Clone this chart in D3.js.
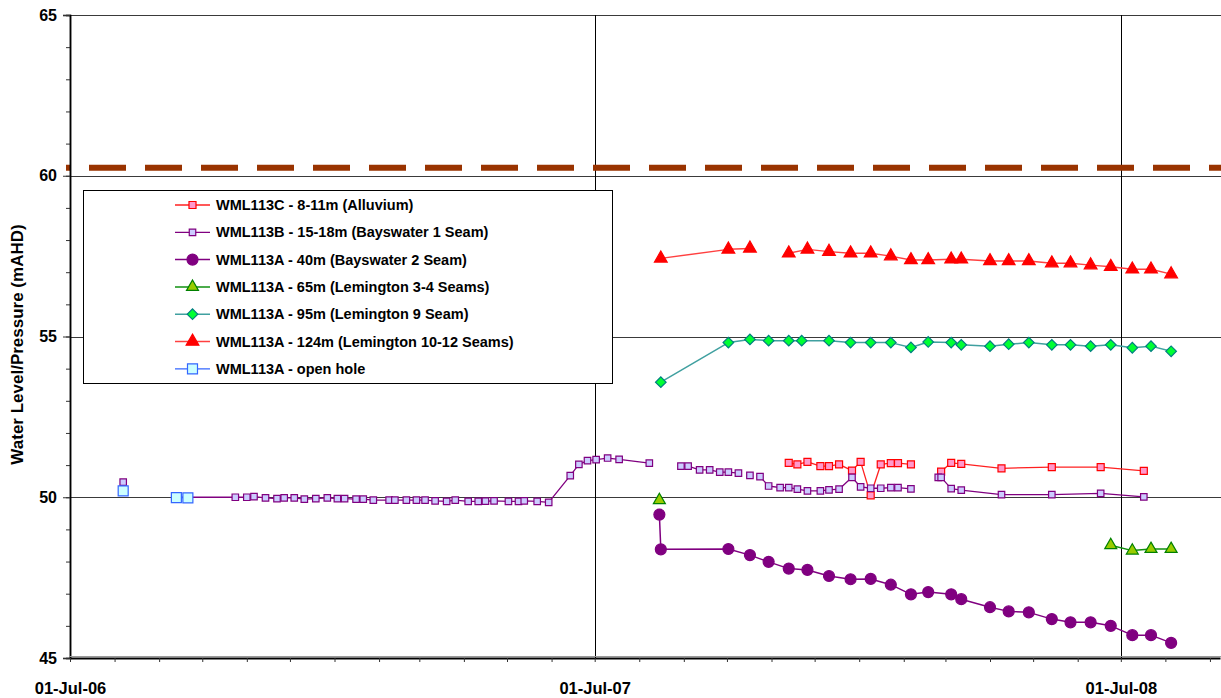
<!DOCTYPE html>
<html>
<head>
<meta charset="utf-8">
<script src="https://cdn.jsdelivr.net/npm/d3@7"></script>
<style>
  body { margin: 0; background: #fff; }
  svg { display: block; }
  text { font-family: "Liberation Sans", Arial, sans-serif; font-weight: bold; fill: #000; }
</style>
</head>
<body>
<svg id="chart" width="1221" height="698"></svg>
<script>
// ---- axis settings -------------------------------------------------------
const xDomain = ["2006-07-01", "2008-09-08"];
const xTickDates = ["2006-07-01", "2007-07-01", "2008-07-01"];
const xTickLabels = ["01-Jul-06", "01-Jul-07", "01-Jul-08"];
const yDomain = [45, 65];
const yTickValues = [45, 50, 55, 60, 65];
const yGridValues = [50, 55, 60, 65];
const yTitle = "Water Level/Pressure (mAHD)";

// reference level drawn as a heavy dashed line
const referenceLevel = 60.25;

// ---- monitoring readings: [date, level mAHD]; null marks a gap ------------
const wml113cReadings = [
  ["2007-11-13", 51.07], ["2007-11-19", 51.02], ["2007-11-26", 51.10], ["2007-12-05", 50.97],
  ["2007-12-11", 50.97], ["2007-12-18", 51.02], ["2007-12-27", 50.83], ["2008-01-02", 51.10],
  ["2008-01-09", 50.06], ["2008-01-16", 51.02], ["2008-01-23", 51.06], ["2008-01-28", 51.06],
  ["2008-02-06", 51.02], null,
  ["2008-02-27", 50.80], ["2008-03-05", 51.07], ["2008-03-12", 51.04], ["2008-04-09", 50.90],
  ["2008-05-14", 50.94], ["2008-06-17", 50.94], ["2008-07-17", 50.82]
];

const wml113bReadings = [
  ["2006-08-07", 50.47], null,
  ["2006-09-12", 50.00], ["2006-09-21", 50.00], ["2006-10-24", 50.00], ["2006-11-01", 50.00],
  ["2006-11-06", 50.02], ["2006-11-14", 49.98], ["2006-11-22", 49.96], ["2006-11-27", 49.98],
  ["2006-12-04", 49.98], ["2006-12-11", 49.94], ["2006-12-19", 49.96], ["2006-12-27", 49.98],
  ["2007-01-03", 49.96], ["2007-01-08", 49.96], ["2007-01-16", 49.94], ["2007-01-21", 49.94],
  ["2007-01-28", 49.91], ["2007-02-08", 49.91], ["2007-02-12", 49.91], ["2007-02-20", 49.91],
  ["2007-02-27", 49.91], ["2007-03-05", 49.91], ["2007-03-12", 49.89], ["2007-03-20", 49.87],
  ["2007-03-26", 49.91], ["2007-04-04", 49.87], ["2007-04-11", 49.87], ["2007-04-16", 49.88],
  ["2007-04-22", 49.89], ["2007-05-02", 49.87], ["2007-05-09", 49.87], ["2007-05-13", 49.89],
  ["2007-05-22", 49.87], ["2007-05-30", 49.84], ["2007-06-14", 50.67], ["2007-06-20", 51.02],
  ["2007-06-26", 51.14], ["2007-07-02", 51.17], ["2007-07-10", 51.22], ["2007-07-18", 51.18],
  ["2007-08-08", 51.06], null,
  ["2007-08-30", 50.97], ["2007-09-04", 50.97], ["2007-09-12", 50.85], ["2007-09-19", 50.85],
  ["2007-09-26", 50.78], ["2007-10-02", 50.78], ["2007-10-09", 50.75], null,
  ["2007-10-17", 50.68], null,
  ["2007-10-24", 50.64], ["2007-10-30", 50.35], ["2007-11-07", 50.30], ["2007-11-13", 50.30],
  ["2007-11-19", 50.25], ["2007-11-26", 50.20], ["2007-12-05", 50.20], ["2007-12-11", 50.23],
  ["2007-12-18", 50.25], ["2007-12-27", 50.62], ["2008-01-02", 50.32], ["2008-01-09", 50.28],
  ["2008-01-16", 50.28], ["2008-01-23", 50.30], ["2008-01-28", 50.30], ["2008-02-06", 50.26], null,
  ["2008-02-25", 50.62], ["2008-02-27", 50.62], ["2008-03-05", 50.27], ["2008-03-12", 50.22],
  ["2008-04-09", 50.08], ["2008-05-14", 50.08], ["2008-06-17", 50.12], ["2008-07-17", 50.01]
];

const wml113a40mReadings = [
  ["2007-08-15", 49.46], ["2007-08-16", 48.38], ["2007-10-02", 48.39], ["2007-10-17", 48.20],
  ["2007-10-30", 47.99], ["2007-11-13", 47.78], ["2007-11-26", 47.74], ["2007-12-11", 47.55],
  ["2007-12-26", 47.45], ["2008-01-09", 47.46], ["2008-01-23", 47.28], ["2008-02-06", 46.98],
  ["2008-02-18", 47.05], ["2008-03-05", 46.98], ["2008-03-12", 46.83], ["2008-04-01", 46.58],
  ["2008-04-14", 46.45], ["2008-04-28", 46.42], ["2008-05-14", 46.21], ["2008-05-27", 46.11],
  ["2008-06-10", 46.11], ["2008-06-24", 46.00], ["2008-07-09", 45.71], ["2008-07-22", 45.71],
  ["2008-08-05", 45.47]
];

const wml113a65mReadings = [
  ["2007-08-15", 49.91], null,
  ["2008-06-24", 48.51], ["2008-07-09", 48.34], ["2008-07-22", 48.39], ["2008-08-05", 48.39]
];

const wml113a95mReadings = [
  ["2007-08-16", 53.58], ["2007-10-02", 54.81], ["2007-10-17", 54.91], ["2007-10-30", 54.87],
  ["2007-11-13", 54.87], ["2007-11-22", 54.87], ["2007-12-11", 54.87], ["2007-12-26", 54.81],
  ["2008-01-09", 54.81], ["2008-01-23", 54.81], ["2008-02-06", 54.66], ["2008-02-18", 54.83],
  ["2008-03-05", 54.81], ["2008-03-12", 54.74], ["2008-04-01", 54.70], ["2008-04-14", 54.76],
  ["2008-04-28", 54.81], ["2008-05-14", 54.74], ["2008-05-27", 54.74], ["2008-06-10", 54.70],
  ["2008-06-24", 54.74], ["2008-07-09", 54.65], ["2008-07-22", 54.70], ["2008-08-05", 54.54]
];

const wml113a124mReadings = [
  ["2007-08-16", 57.43], ["2007-10-02", 57.71], ["2007-10-17", 57.74], null,
  ["2007-11-13", 57.59], ["2007-11-26", 57.71], ["2007-12-11", 57.64], ["2007-12-26", 57.59],
  ["2008-01-09", 57.59], ["2008-01-23", 57.50], ["2008-02-06", 57.38], ["2008-02-18", 57.38],
  ["2008-03-05", 57.40], ["2008-03-12", 57.40], ["2008-04-01", 57.35], ["2008-04-14", 57.35],
  ["2008-04-28", 57.35], ["2008-05-14", 57.28], ["2008-05-27", 57.28], ["2008-06-10", 57.22],
  ["2008-06-24", 57.17], ["2008-07-09", 57.09], ["2008-07-22", 57.09], ["2008-08-05", 56.94]
];

const wml113aOpenHoleReadings = [
  ["2006-08-07", 50.20], null,
  ["2006-09-13", 49.99], ["2006-09-21", 49.98]
];

// series in legend order (later entries draw on top)
const seriesNames = [
  "WML113C - 8-11m (Alluvium)",
  "WML113B - 15-18m (Bayswater 1 Seam)",
  "WML113A - 40m (Bayswater 2 Seam)",
  "WML113A - 65m (Lemington 3-4 Seams)",
  "WML113A - 95m (Lemington 9 Seam)",
  "WML113A - 124m (Lemington 10-12 Seams)",
  "WML113A - open hole"
];
const seriesReadings = [
  wml113cReadings, wml113bReadings, wml113a40mReadings, wml113a65mReadings,
  wml113a95mReadings, wml113a124mReadings, wml113aOpenHoleReadings
];

// ---- styles ---------------------------------------------------------------
const seriesStyles = [
  { line: "#ff2020", lineWidth: 1.3, shape: "square",   size: 49,  fill: "#ff99cc", stroke: "#ff0000" },
  { line: "#800080", lineWidth: 1.3, shape: "square",   size: 42,  fill: "#ccccff", stroke: "#800080" },
  { line: "#800080", lineWidth: 1.5, shape: "circle",   size: 95,  fill: "#800080", stroke: "#800080" },
  { line: "#109010", lineWidth: 1.5, shape: "triangle", size: 62,  fill: "#99cc00", stroke: "#008000" },
  { line: "#40a0a0", lineWidth: 1.5, shape: "diamond",  size: 56,  fill: "#00ff33", stroke: "#008080" },
  { line: "#ff4040", lineWidth: 1.5, shape: "triangle", size: 70,  fill: "#ff0000", stroke: "#ff0000" },
  { line: "#3366ff", lineWidth: 1.3, shape: "square",   size: 100, fill: "#ccffff", stroke: "#3366ff" }
];

const W = 1221, H = 698;
const plot = { left: 70, right: 1220, top: 15, bottom: 658 };

const parseDate = d3.utcParse("%Y-%m-%d");
const x = d3.scaleUtc().domain(xDomain.map(parseDate)).range([plot.left, plot.right]);
const y = d3.scaleLinear().domain(yDomain).range([plot.bottom, plot.top]);

const svg = d3.select("#chart");
svg.append("rect").attr("width", W).attr("height", H).attr("fill", "#fff");

// ---- grid -----------------------------------------------------------------
const grid = svg.append("g");
grid.selectAll("line.h").data(yGridValues).join("line")
  .attr("x1", plot.left).attr("x2", W)
  .attr("y1", d => Math.round(y(d)) + 0.5).attr("y2", d => Math.round(y(d)) + 0.5)
  .attr("stroke", "#3a3a3a").attr("stroke-width", 1);
grid.selectAll("line.v").data(xTickDates.slice(1)).join("line")
  .attr("x1", d => Math.round(x(parseDate(d))) + 0.5).attr("x2", d => Math.round(x(parseDate(d))) + 0.5)
  .attr("y1", plot.top).attr("y2", plot.bottom)
  .attr("stroke", "#000").attr("stroke-width", 1);

// ---- reference level ------------------------------------------------------
svg.append("line")
  .attr("x1", plot.left - 4).attr("x2", W)
  .attr("y1", y(referenceLevel)).attr("y2", y(referenceLevel))
  .attr("stroke", "#993300").attr("stroke-width", 6)
  .attr("stroke-dasharray", "37 19").attr("stroke-dashoffset", 33);

// ---- axes -----------------------------------------------------------------
const yMinor = svg.append("g").attr("transform", `translate(${plot.left},0)`)
  .call(d3.axisLeft(y).tickValues(d3.range(yDomain[0], yDomain[1] + 1, 1)).tickSize(4).tickFormat(""));
const yMajor = svg.append("g").attr("transform", `translate(${plot.left},0)`)
  .call(d3.axisLeft(y).tickValues(yTickValues).tickSize(7).tickPadding(6));
yMajor.selectAll("text").attr("font-size", 16).style("font-family", '"Liberation Sans", Arial, sans-serif').style("font-weight", "bold");
[yMinor, yMajor].forEach(g => {
  g.select(".domain").attr("stroke", "#000").attr("stroke-width", 1.5);
  g.selectAll(".tick line").attr("stroke", "#333");
});

// shading line above the date axis
svg.append("line").attr("x1", plot.left).attr("x2", W)
  .attr("y1", plot.bottom - 1.5).attr("y2", plot.bottom - 1.5)
  .attr("stroke", "#9a9a9a").attr("stroke-width", 1);

const xMinor = svg.append("g").attr("transform", `translate(0,${plot.bottom})`)
  .call(d3.axisBottom(x).ticks(d3.utcMonth.every(1)).tickSize(4).tickSizeOuter(0).tickFormat(""));
xMinor.select(".domain").attr("stroke", "#000").attr("stroke-width", 2);
xMinor.selectAll(".tick line").attr("stroke", "#333");

const xMajor = svg.append("g").attr("transform", `translate(0,${plot.bottom})`)
  .call(d3.axisBottom(x).tickValues(xTickDates.map(parseDate)).tickSize(0).tickPadding(24)
    .tickFormat((d, i) => xTickLabels[i]));
xMajor.select(".domain").remove();
xMajor.selectAll("text").attr("font-size", 16.5).style("font-family", '"Liberation Sans", Arial, sans-serif').style("font-weight", "bold");

svg.append("text")
  .attr("transform", `translate(23,${(plot.top + plot.bottom) / 2 + 8}) rotate(-90)`)
  .attr("text-anchor", "middle").attr("font-size", 17)
  .text(yTitle);

// ---- series ---------------------------------------------------------------
function symbolPath(shape, size) {
  if (shape === "circle") return d3.symbol(d3.symbolCircle, size)();
  if (shape === "triangle") return d3.symbol(d3.symbolTriangle, size)();
  return d3.symbol(d3.symbolSquare, size)();
}
function markerTransform(shape, px, py) {
  return shape === "diamond" ? `translate(${px},${py}) rotate(45)` : `translate(${px},${py})`;
}

const plotArea = svg.append("g");
seriesReadings.forEach((readings, i) => {
  const st = seriesStyles[i];
  const pts = readings.map(r => r ? { date: parseDate(r[0]), v: r[1] } : null);
  const line = d3.line().defined(d => d !== null).x(d => x(d.date)).y(d => y(d.v));
  const g = plotArea.append("g");
  g.append("path").attr("d", line(pts))
    .attr("fill", "none").attr("stroke", st.line).attr("stroke-width", st.lineWidth)
    .attr("stroke-linejoin", "round");
  g.selectAll("path.m").data(pts.filter(d => d !== null)).join("path")
    .attr("class", "m")
    .attr("d", symbolPath(st.shape, st.size))
    .attr("transform", d => markerTransform(st.shape, x(d.date), y(d.v)))
    .attr("fill", st.fill).attr("stroke", st.stroke).attr("stroke-width", 1.2);
});

// ---- legend ---------------------------------------------------------------
const legend = svg.append("g");
legend.append("rect").attr("x", 83.5).attr("y", 190.5).attr("width", 529).attr("height", 193)
  .attr("fill", "#fff").attr("stroke", "#000").attr("stroke-width", 1);
seriesNames.forEach((name, i) => {
  const st = seriesStyles[i];
  const cy = 205 + i * 27.3;
  const row = legend.append("g");
  row.append("line").attr("x1", 175).attr("x2", 210).attr("y1", cy).attr("y2", cy)
    .attr("stroke", st.line).attr("stroke-width", st.lineWidth);
  row.append("path").attr("d", symbolPath(st.shape, st.size))
    .attr("transform", markerTransform(st.shape, 192.5, cy))
    .attr("fill", st.fill).attr("stroke", st.stroke).attr("stroke-width", 1.2);
  row.append("text").attr("x", 216).attr("y", cy + 5).attr("font-size", 14.5).text(name);
});
</script>
</body>
</html>
